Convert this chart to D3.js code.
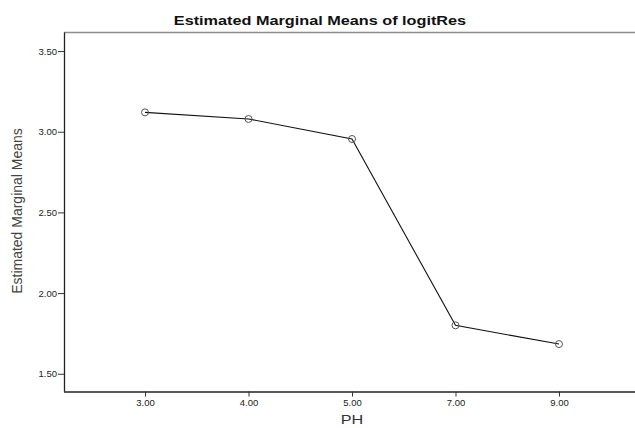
<!DOCTYPE html>
<html><head><meta charset="utf-8">
<script src="https://cdn.jsdelivr.net/npm/d3@7"></script>
<style>body{margin:0;background:#fff}svg{display:block}</style>
</head><body>
<script>
const categories = ["3.00","4.00","5.00","7.00","9.00"];
const means = [3.12, 3.079, 2.955, 1.80, 1.684];
const yTicks = [1.5, 2.0, 2.5, 3.0, 3.5];
const title = "Estimated Marginal Means of logitRes";
const xTitle = "PH";
const yTitle = "Estimated Marginal Means";

const W = 635, H = 428;
const pLeft = 64, pRight = 640, pTop = 32.5, pBottom = 391.5;
const svg = d3.select("body").append("svg").attr("width", W).attr("height", H);

const x = d3.scalePoint().domain(categories).range([pLeft, pRight]).padding(0.783);
const y = d3.scaleLinear().domain([1.39, 3.615]).range([pBottom, pTop]);

// frame top
svg.append("line").attr("x1", pLeft).attr("x2", W).attr("y1", pTop).attr("y2", pTop)
  .attr("stroke", "#8c8c8c").attr("stroke-width", 1.5);

const yAxis = svg.append("g").attr("transform", `translate(${pLeft},0)`)
  .call(d3.axisLeft(y).tickValues(yTicks).tickFormat(d3.format(".2f")).tickSize(6).tickSizeOuter(0));
const xAxis = svg.append("g").attr("transform", `translate(0,${pBottom})`)
  .call(d3.axisBottom(x).tickSize(5).tickSizeOuter(0));
[yAxis, xAxis].forEach(a => {
  a.select(".domain").attr("stroke", "#222").attr("stroke-width", 1.3);
  a.selectAll(".tick line").attr("stroke", "#333");
  a.selectAll("text").attr("font-family", "Arial, 'Liberation Sans', sans-serif")
    .attr("font-size", 9.5).attr("fill", "#222");
});
xAxis.select(".domain").attr("d", `M${pLeft},0.5H${W}`);
yAxis.select(".domain").attr("d", `M0.5,${pTop}V${pBottom}`);
yAxis.selectAll(".tick text").attr("x", -7);
xAxis.selectAll(".tick text").attr("y", 8);

// line
const line = d3.line().x((d,i) => x(categories[i])).y(d => y(d));
svg.append("path").datum(means).attr("d", line).attr("fill", "none")
  .attr("stroke", "#111").attr("stroke-width", 1.1);
svg.selectAll("circle.pt").data(means).join("circle").attr("class","pt")
  .attr("cx", (d,i) => x(categories[i])).attr("cy", d => y(d)).attr("r", 3.5)
  .attr("fill", "none").attr("stroke", "#555").attr("stroke-width", 1);

// titles
svg.append("text").attr("transform", "translate(320,25) scale(1.25,1)").attr("text-anchor", "middle")
  .attr("font-family", "Arial, 'Liberation Sans', sans-serif").attr("font-weight", "bold")
  .attr("font-size", 13).attr("fill", "#111").text(title);
svg.append("text").attr("transform", "translate(352,424) scale(1.2,1)").attr("text-anchor", "middle")
  .attr("font-family", "Arial, 'Liberation Sans', sans-serif")
  .attr("font-size", 13.5).attr("fill", "#333").text(xTitle);
svg.append("text").attr("transform", `translate(22,211) scale(1.1,1) rotate(-90)`).attr("text-anchor", "middle")
  .attr("font-family", "Arial, 'Liberation Sans', sans-serif")
  .attr("font-size", 14).attr("fill", "#444").text(yTitle);
</script>
</body></html>
